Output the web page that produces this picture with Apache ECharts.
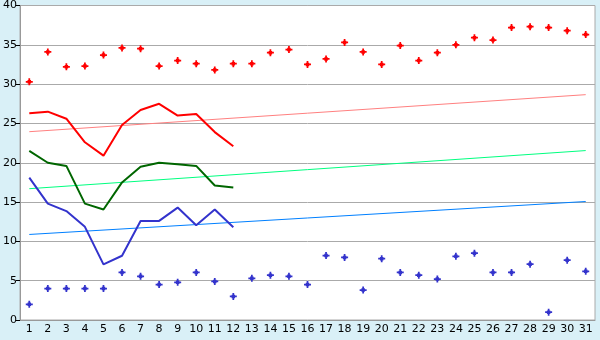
<!DOCTYPE html>
<html>
<head>
<meta charset="utf-8">
<script src="https://cdn.jsdelivr.net/npm/echarts@6/dist/echarts.min.js"></script>
<style>
  html, body { margin: 0; padding: 0; background: #d9f0f7; }
  #chart { width: 600px; height: 340px; }
</style>
</head>
<body>
<div id="chart"></div>
<script>
// days of the month
const days = []
for (let d = 1; d <= 31; d++) days.push(String(d))

// scatter points
const highPoints = [30.3, 34.1, 32.2, 32.3, 33.7, 34.6, 34.5, 32.3, 33.0, 32.6, 31.8, 32.6, 32.6, 34.0, 34.4,
  32.5, 33.2, 35.3, 34.1, 32.5, 34.9, 33.0, 34.0, 35.0, 35.9, 35.6, 37.2, 37.3, 37.2, 36.8, 36.3]
const lowPoints = [2.0, 4.0, 4.0, 4.0, 4.0, 6.05, 5.55, 4.5, 4.8, 6.05, 4.9, 3.0, 5.3, 5.7, 5.55,
  4.5, 8.2, 7.95, 3.8, 7.8, 6.05, 5.7, 5.2, 8.1, 8.5, 6.05, 6.05, 7.1, 1.0, 7.6, 6.2]

// lines, first 12 days
const redLine = [26.3, 26.5, 25.6, 22.6, 20.9, 24.8, 26.7, 27.5, 26.0, 26.2, 23.9, 22.1]
const greenLine = [21.5, 20.0, 19.6, 14.8, 14.05, 17.5, 19.5, 20.0, 19.8, 19.6, 17.1, 16.85]
const blueLine = [18.1, 14.8, 13.85, 11.85, 7.07, 8.17, 12.6, 12.6, 14.3, 12.06, 14.05, 11.8]

// trend lines: value at day 1 and day 31
const redTrend = [23.95, 28.66]
const greenTrend = [16.7, 21.55]
const blueTrend = [10.88, 15.07]

const yTicks = [0, 5, 10, 15, 20, 25, 30, 35, 40]

// chunky plus marker
const crossSymbol = 'path://M3,0H5V2H6V3H8V5H6V6H5V8H3V6H2V5H0V3H2V2H3Z'

function trend(vals) {
  return [[0, vals[0]], [days.length - 1, vals[1]]]
}

const chart = echarts.init(document.getElementById('chart'))
chart.setOption({
  backgroundColor: '#d9f0f7',
  animation: false,
  textStyle: { fontFamily: 'DejaVu Sans' },
  grid: {
    left: 20, right: 5, top: 5, bottom: 20,
    show: true, backgroundColor: '#ffffff', borderColor: '#aaaaaa', borderWidth: 1
  },
  xAxis: {
    type: 'category',
    data: days,
    boundaryGap: true,
    axisLine: { lineStyle: { color: '#999999' } },
    axisTick: { alignWithLabel: true, length: 5, lineStyle: { color: '#000000' } },
    axisLabel: { color: '#000000', fontSize: 11, margin: 4, interval: 0 },
    splitLine: { show: false }
  },
  yAxis: {
    type: 'value',
    min: yTicks[0],
    max: yTicks[yTicks.length - 1],
    interval: 5,
    axisLine: { show: true, lineStyle: { color: '#999999' } },
    axisTick: { show: true, length: 4, lineStyle: { color: '#000000' } },
    axisLabel: { color: '#000000', fontSize: 11, margin: 3 },
    splitLine: { lineStyle: { color: '#aaaaaa', width: 1 } }
  },
  series: [
    { type: 'line', data: trend(redTrend), symbol: 'none', lineStyle: { color: '#ff8080', width: 1 } },
    { type: 'line', data: trend(greenTrend), symbol: 'none', lineStyle: { color: '#00ff80', width: 1 } },
    { type: 'line', data: trend(blueTrend), symbol: 'none', lineStyle: { color: '#0080ff', width: 1 } },
    { type: 'line', data: redLine, symbol: 'none', lineStyle: { color: '#ff0000', width: 2 } },
    { type: 'line', data: greenLine, symbol: 'none', lineStyle: { color: '#006600', width: 2 } },
    { type: 'line', data: blueLine, symbol: 'none', lineStyle: { color: '#3333cc', width: 2 } },
    { type: 'scatter', data: highPoints, symbol: crossSymbol, symbolSize: 7, itemStyle: { color: '#ff0000', opacity: 1 } },
    { type: 'scatter', data: lowPoints, symbol: crossSymbol, symbolSize: 7, itemStyle: { color: '#3333cc', opacity: 1 } }
  ]
})
</script>
</body>
</html>
